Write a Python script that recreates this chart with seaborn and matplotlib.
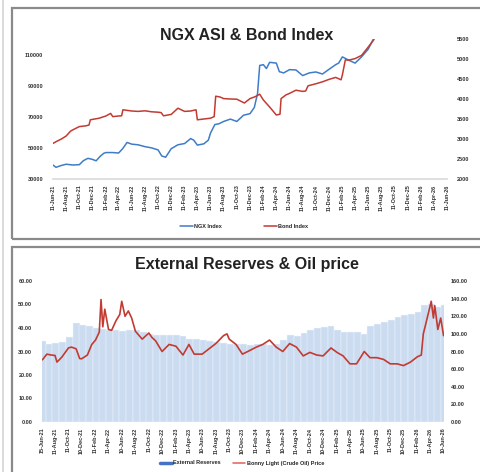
import matplotlib
matplotlib.use("Agg")
import matplotlib.pyplot as plt
from matplotlib.patches import Rectangle
from matplotlib.lines import Line2D
import seaborn as sns
import pandas as pd

# ---------------- data: NGX ASI & Bond Index ----------------
ngx_dates = ["2021-06-11", "2021-06-25", "2021-07-15", "2021-08-11", "2021-09-10", "2021-10-11",
             "2021-10-30", "2021-11-20", "2021-12-11", "2021-12-28", "2022-01-15", "2022-02-01",
             "2022-02-11", "2022-03-15", "2022-04-11", "2022-04-30", "2022-05-20", "2022-06-11",
             "2022-07-10", "2022-08-11", "2022-09-11", "2022-10-11", "2022-10-28", "2022-11-15",
             "2022-12-11", "2023-01-11", "2023-02-11", "2023-03-11", "2023-03-25", "2023-04-11",
             "2023-05-11", "2023-06-01", "2023-06-11", "2023-07-01", "2023-07-20", "2023-08-11",
             "2023-09-11", "2023-10-11", "2023-11-11", "2023-12-11", "2023-12-31", "2024-01-15",
             "2024-01-25", "2024-02-11", "2024-02-25", "2024-03-11", "2024-04-11", "2024-04-25",
             "2024-05-15", "2024-06-11", "2024-07-11", "2024-08-11", "2024-09-11", "2024-10-11",
             "2024-11-11", "2024-12-11", "2025-01-11", "2025-01-25", "2025-02-11", "2025-03-11",
             "2025-04-11", "2025-05-11", "2025-06-11", "2025-07-05"]
ngx_values = [39000, 37500, 38500, 39500, 39000, 39200,
              41800, 43300, 42600, 41700, 44500, 46500,
              47000, 47000, 46700, 49500, 53500, 52400,
              52000, 50800, 50000, 48700, 44800, 44000,
              49500, 52000, 52800, 56000, 55000, 51800,
              52600, 55000, 59500, 65000, 65500, 67000,
              68500, 67000, 71000, 72000, 76000, 85000,
              103000, 103500, 101000, 105000, 104500, 99000,
              98200, 100300, 100100, 96500, 98200, 98800,
              97500, 100500, 103500, 104500, 108500, 106500,
              104500, 108500, 113500, 120000]

bond_dates = ["2021-06-11", "2021-07-01", "2021-07-20", "2021-08-11", "2021-09-01", "2021-09-15",
              "2021-10-11", "2021-11-11", "2021-11-25", "2021-12-01", "2021-12-11", "2022-01-11",
              "2022-02-11", "2022-03-05", "2022-03-15", "2022-04-11", "2022-04-25", "2022-05-01",
              "2022-06-11", "2022-07-11", "2022-08-11", "2022-09-11", "2022-10-11", "2022-10-25",
              "2022-11-05", "2022-12-11", "2023-01-11", "2023-02-11", "2023-03-11", "2023-04-05",
              "2023-04-11", "2023-05-11", "2023-06-11", "2023-06-28", "2023-07-05", "2023-07-25",
              "2023-08-11", "2023-09-11", "2023-10-11", "2023-11-15", "2023-12-11", "2024-01-05",
              "2024-01-25", "2024-02-11", "2024-03-11", "2024-04-11", "2024-04-28", "2024-05-03",
              "2024-05-25", "2024-06-11", "2024-07-11", "2024-08-11", "2024-08-25", "2024-09-05",
              "2024-10-11", "2024-11-11", "2024-12-11", "2025-01-11", "2025-02-05", "2025-02-11",
              "2025-02-25", "2025-03-11", "2025-04-11", "2025-05-11", "2025-06-11", "2025-07-08"]
bond_values = [2890, 2950, 3000, 3075, 3200, 3240,
               3310, 3330, 3350, 3480, 3490, 3520,
               3575, 3640, 3560, 3575, 3580, 3730,
               3700, 3690, 3705, 3680, 3670, 3660,
               3580, 3615, 3770, 3690, 3700, 3730,
               3480, 3500, 3520, 3560, 4070, 4050,
               4010, 4000, 3995, 3900, 4010, 4060,
               4120, 3975, 3800, 3600, 3620, 4010,
               4100, 4140, 4220, 4190, 4200, 4330,
               4380, 4430, 4490, 4540, 4480, 4600,
               4980, 4970, 5010, 5090, 5300, 5490]

top_tick_labels = ["11-Jun-21", "11-Aug-21", "11-Oct-21", "11-Dec-21", "11-Feb-22", "11-Apr-22",
                   "11-Jun-22", "11-Aug-22", "11-Oct-22", "11-Dec-22", "11-Feb-23", "11-Apr-23",
                   "11-Jun-23", "11-Aug-23", "11-Oct-23", "11-Dec-23", "11-Feb-24", "11-Apr-24",
                   "11-Jun-24", "11-Aug-24", "11-Oct-24", "11-Dec-24", "11-Feb-25", "11-Apr-25",
                   "11-Jun-25", "11-Aug-25", "11-Oct-25", "11-Dec-25", "11-Feb-26", "11-Apr-26",
                   "11-Jun-26"]

# ---------------- data: External Reserves & Oil price ----------------
res_months = ["2021-06-15", "2021-07-15", "2021-08-15", "2021-09-15", "2021-10-15", "2021-11-15",
              "2021-12-15", "2022-01-15", "2022-02-15", "2022-03-15", "2022-04-15", "2022-05-15",
              "2022-06-15", "2022-07-15", "2022-08-15", "2022-09-15", "2022-10-15", "2022-11-15",
              "2022-12-15", "2023-01-15", "2023-02-15", "2023-03-15", "2023-04-15", "2023-05-15",
              "2023-06-15", "2023-07-15", "2023-08-15", "2023-09-15", "2023-10-15", "2023-11-15",
              "2023-12-15", "2024-01-15", "2024-02-15", "2024-03-15", "2024-04-15", "2024-05-15",
              "2024-06-15", "2024-07-15", "2024-08-15", "2024-09-15", "2024-10-15", "2024-11-15",
              "2024-12-15", "2025-01-15", "2025-02-15", "2025-03-15", "2025-04-15", "2025-05-15",
              "2025-06-15", "2025-07-15", "2025-08-15", "2025-09-15", "2025-10-15", "2025-11-15",
              "2025-12-15", "2026-01-15", "2026-02-15", "2026-03-15", "2026-04-15", "2026-05-15",
              "2026-06-15"]
res_values = [34.5, 33.3, 33.6, 34.0, 36.2, 42.1, 41.1,
              40.7, 40.1, 39.7, 39.3, 39.0, 38.7, 39.3, 39.0, 38.3, 37.6, 37.2, 37.0,
              36.9, 36.9, 36.5, 35.5, 35.2, 35.0, 34.3, 34.0, 33.6, 33.3, 33.3, 33.0,
              32.9, 33.3, 33.3, 32.6, 33.0, 34.8, 36.9, 36.5, 37.9, 39.3, 40.1, 40.4,
              40.7, 39.0, 38.3, 38.3, 38.3, 37.6, 40.7, 41.8, 42.6, 43.3, 44.7, 45.4,
              45.8, 46.8, 49.6, 50.1, 48.9, 49.6]

oil_dates = ["2021-06-15", "2021-07-05", "2021-07-25", "2021-08-11", "2021-08-20", "2021-09-11",
             "2021-10-11", "2021-10-25", "2021-11-15", "2021-12-01", "2021-12-10", "2022-01-05",
             "2022-01-25", "2022-02-11", "2022-02-28", "2022-03-08", "2022-03-16", "2022-03-25",
             "2022-04-11", "2022-04-25", "2022-05-15", "2022-06-01", "2022-06-10", "2022-06-25",
             "2022-07-10", "2022-07-25", "2022-08-11", "2022-09-11", "2022-10-11", "2022-10-25",
             "2022-11-11", "2022-12-10", "2023-01-11", "2023-02-11", "2023-03-15", "2023-04-11",
             "2023-05-05", "2023-06-10", "2023-07-11", "2023-08-11", "2023-09-15", "2023-10-01",
             "2023-10-11", "2023-11-11", "2023-12-10", "2024-01-11", "2024-02-11", "2024-03-11",
             "2024-04-11", "2024-05-11", "2024-06-10", "2024-07-11", "2024-08-11", "2024-09-11",
             "2024-10-11", "2024-11-11", "2024-12-10", "2025-01-15", "2025-02-11", "2025-03-11",
             "2025-04-11", "2025-05-11", "2025-06-15", "2025-07-11", "2025-08-11", "2025-09-11",
             "2025-10-11", "2025-11-11", "2025-12-10", "2026-01-11", "2026-02-11", "2026-03-01",
             "2026-03-10", "2026-03-20", "2026-04-15", "2026-04-25", "2026-05-01", "2026-05-15",
             "2026-05-28", "2026-06-10"]
oil_values = [70.6, 77, 76, 75.5, 68, 73.6,
              84, 85, 83, 72, 71.7, 76,
              88, 93, 102, 139, 108, 128,
              105, 104, 115, 122, 137, 120,
              126, 118, 103, 94, 101, 96,
              92, 80, 88, 86, 76, 88,
              77, 77, 83, 89, 98, 100,
              94, 88, 77, 81, 85, 88,
              93, 85, 80, 89, 85, 75,
              79, 76, 75, 84, 79, 75,
              66, 66, 80, 73, 73, 71,
              66, 66, 64, 68, 74, 76,
              100, 110, 137, 118, 132, 105,
              118, 98]

bot_tick_labels = ["15-Jun-21", "11-Aug-21", "11-Oct-21", "10-Dec-21", "11-Feb-22", "11-Apr-22",
                   "10-Jun-22", "11-Aug-22", "11-Oct-22", "10-Dec-22", "11-Feb-23", "11-Apr-23",
                   "10-Jun-23", "11-Aug-23", "11-Oct-23", "10-Dec-23", "11-Feb-24", "11-Apr-24",
                   "10-Jun-24", "11-Aug-24", "11-Oct-24", "10-Dec-24", "11-Feb-25", "11-Apr-25",
                   "10-Jun-25", "11-Aug-25", "11-Oct-25", "10-Dec-25", "11-Feb-26", "11-Apr-26",
                   "10-Jun-26"]

# ---------------- styling ----------------
sns.set_style("white")
plt.rcParams["font.family"] = ["Liberation Sans", "DejaVu Sans"]

BLUE = "#3f7cc8"
RED = "#c23b32"
BAR = "#cbdcf0"
FS = 4

W, H = 480, 472
fig = plt.figure(figsize=(W / 100, H / 100), dpi=100)

def fx(px):
    return px / W

def fy(py):
    return 1 - py / H

# panel frames
fig.patches.append(Line2D([fx(2.5), fx(2.5)], [0, 1], transform=fig.transFigure,
                          color="#d4d4d4", lw=1.2))
fig.patches.append(Rectangle((fx(12), fy(239)), fx(480) - fx(12) + 0.02, fy(8) - fy(239),
                             transform=fig.transFigure, fill=False, ec="#8a8a8a", lw=1.6))
fig.patches.append(Rectangle((fx(12), fy(480)), fx(480) - fx(12) + 0.02, fy(247) - fy(480),
                             transform=fig.transFigure, fill=False, ec="#8a8a8a", lw=1.6))

# ---------------- top chart ----------------
ax1 = fig.add_axes([fx(53), fy(179), fx(447) - fx(53), fy(39) - fy(179)])
ax1b = ax1.twinx()
df_ngx = pd.DataFrame({"date": pd.to_datetime(ngx_dates), "v": ngx_values})
df_bond = pd.DataFrame({"date": pd.to_datetime(bond_dates), "v": bond_values})
sns.lineplot(data=df_ngx, x="date", y="v", ax=ax1, color=BLUE, lw=1.1)
sns.lineplot(data=df_bond, x="date", y="v", ax=ax1b, color=RED, lw=1.1)

top_ticks = pd.to_datetime(top_tick_labels, format="%d-%b-%y")
ax1.set_xlim(top_ticks[0], top_ticks[-1])
ax1.set_ylim(30000, 120000)
ax1.set_yticks([30000, 50000, 70000, 90000, 110000])
ax1b.set_ylim(2000, 5500)
ax1b.set_yticks(range(2000, 5501, 500))
ax1.set_xticks(top_ticks)
ax1.set_xticklabels(top_tick_labels, rotation=90, fontsize=FS, fontweight="bold", color="#333333")
for a in (ax1, ax1b):
    a.set_xlabel("")
    a.set_ylabel("")
    for s in a.spines.values():
        s.set_visible(False)
    a.tick_params(length=0, pad=4, labelsize=FS)
ax1.spines["bottom"].set_visible(True)
ax1.spines["bottom"].set_color("#d9d9d9")
ax1.spines["bottom"].set_linewidth(1.2)
for t in ax1.get_yticklabels() + ax1b.get_yticklabels():
    t.set_fontweight("bold")
    t.set_color("#333333")
ax1.tick_params(axis="y", pad=7)
ax1b.tick_params(axis="y", pad=7)
ax1.patch.set_alpha(0)

fig.text(fx(247), fy(35), "NGX ASI & Bond Index", ha="center", va="center",
         fontsize=11.5, fontweight="bold", color="#222222")
top_handles = [Line2D([], [], color=BLUE, lw=1.1), Line2D([], [], color=RED, lw=1.1)]
fig.legend(top_handles, ["NGX Index", "Bond Index"], loc="center", bbox_to_anchor=(fx(244), fy(226)),
           ncol=2, frameon=False, prop={"size": FS, "weight": "bold"}, handlelength=2.4,
           handletextpad=0.2, columnspacing=7.5)

# ---------------- bottom chart ----------------
ax2 = fig.add_axes([fx(42), fy(422), fx(444) - fx(42), fy(281) - fy(422)])
ax2b = ax2.twinx()
ax2.bar(pd.to_datetime(res_months), res_values, width=31, color=BAR, edgecolor="#f4f8fc",
        linewidth=0.3, zorder=1)
df_oil = pd.DataFrame({"date": pd.to_datetime(oil_dates), "v": oil_values})
sns.lineplot(data=df_oil, x="date", y="v", ax=ax2b, color=RED, lw=1.2)

bot_ticks = pd.to_datetime(bot_tick_labels, format="%d-%b-%y")
ax2.set_xlim(pd.Timestamp("2021-06-13"), pd.Timestamp("2026-06-12"))
ax2.set_ylim(0, 60)
ax2.set_yticks(range(0, 61, 10))
ax2.set_yticklabels([f"{v:.2f}" for v in range(0, 61, 10)])
ax2b.set_ylim(0, 160)
ax2b.set_yticks(range(0, 161, 20))
ax2b.set_yticklabels([f"{v:.2f}" for v in range(0, 161, 20)])
ax2.set_xticks(bot_ticks)
ax2.set_xticklabels(bot_tick_labels, rotation=90, fontsize=FS, fontweight="bold", color="#333333")
for a in (ax2, ax2b):
    a.set_xlabel("")
    a.set_ylabel("")
    for s in a.spines.values():
        s.set_visible(False)
    a.tick_params(length=0, pad=4, labelsize=FS)
for t in ax2.get_yticklabels() + ax2b.get_yticklabels():
    t.set_fontweight("bold")
    t.set_color("#333333")
ax2.tick_params(axis="y", pad=7)
ax2b.tick_params(axis="y", pad=5)

fig.text(fx(247), fy(264), "External Reserves & Oil price", ha="center", va="center",
         fontsize=11.5, fontweight="bold", color="#222222")
bot_handles = [Line2D([], [], color="#4472c4", lw=2.5), Line2D([], [], color="#e06060", lw=1.1)]
fig.legend(bot_handles, ["External Reserves", "Bonny Light (Crude Oil) Price"], loc="center",
           bbox_to_anchor=(fx(242), fy(463)), ncol=2, frameon=False,
           prop={"size": FS, "weight": "bold"}, handlelength=2.2, handletextpad=0.2,
           columnspacing=2.2)

fig.savefig("out.png", dpi=100)
